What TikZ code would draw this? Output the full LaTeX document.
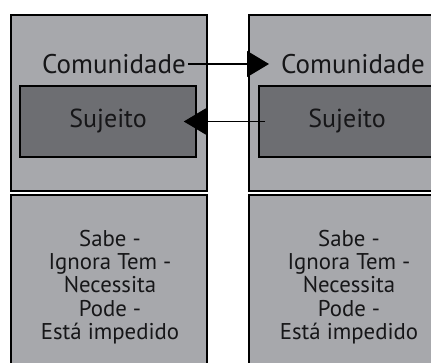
\documentclass[tikz,border=0pt]{standalone}
\usepackage{fontspec}
\setmainfont{PT Sans}
\usetikzlibrary{positioning, arrows.meta, calc}

\definecolor{panelgray}{RGB}{167,168,172}
\definecolor{subjgray}{RGB}{109,110,114}
\definecolor{inkgray}{RGB}{22,22,24}

\tikzset{
    panel/.style={draw=black, line width=1.6pt, fill=panelgray, anchor=north west,
        minimum width=196pt, minimum height=176pt, inner sep=0pt},
    subj/.style={draw=black, line width=1.6pt, fill=subjgray, text=inkgray,
        minimum width=176pt, minimum height=71pt, inner sep=0pt, font=\fontsize{26}{30}\selectfont},
    txt/.style={text=inkgray, inner sep=2pt, font=\fontsize{27}{30}\selectfont},
    listtxt/.style={text=inkgray, inner sep=2pt, align=center, font=\fontsize{22.8}{23.4}\selectfont},
    conn/.style={draw=black, line width=1.2pt, -{Triangle[length=22pt, width=26pt]}}
}

\begin{document}
\begin{tikzpicture}[x=1pt, y=-1pt]
    \useasboundingbox (0,0) rectangle (431,363);
    \clip (0,0) rectangle (431,363);

    % Panels
    \node [panel] (boxL) at (10,14) {};
    \node [panel] (infoL) at (10,194) {};
    \node [panel] (boxR) at (248,14) {};
    \node [panel] (infoR) at (248,194) {};

    % Subject boxes
    \node [subj] (sujL) at (108,121.5) {Sujeito};
    \node [subj] (sujR) at (347,121.5) {Sujeito};

    % Community labels
    \node [txt] (comL) at (114,64) {Comunidade};
    \node [txt] (comR) at (353,64) {Comunidade};

    % Lists
    \node [listtxt] (listL) at (110,287)
        {Sabe -\\Ignora Tem -\\Necessita\\Pode -\\Está impedido};
    \node [listtxt] (listR) at (349,287)
        {Sabe -\\Ignora Tem -\\Necessita\\Pode -\\Está impedido};

    % Connectors
    \draw [conn, shorten >=10pt] (comL.east) -- (comR.west);
    \draw [conn] ([xshift=7pt]sujR.west) -- ([xshift=-13pt]sujL.east);
\end{tikzpicture}
\end{document}
